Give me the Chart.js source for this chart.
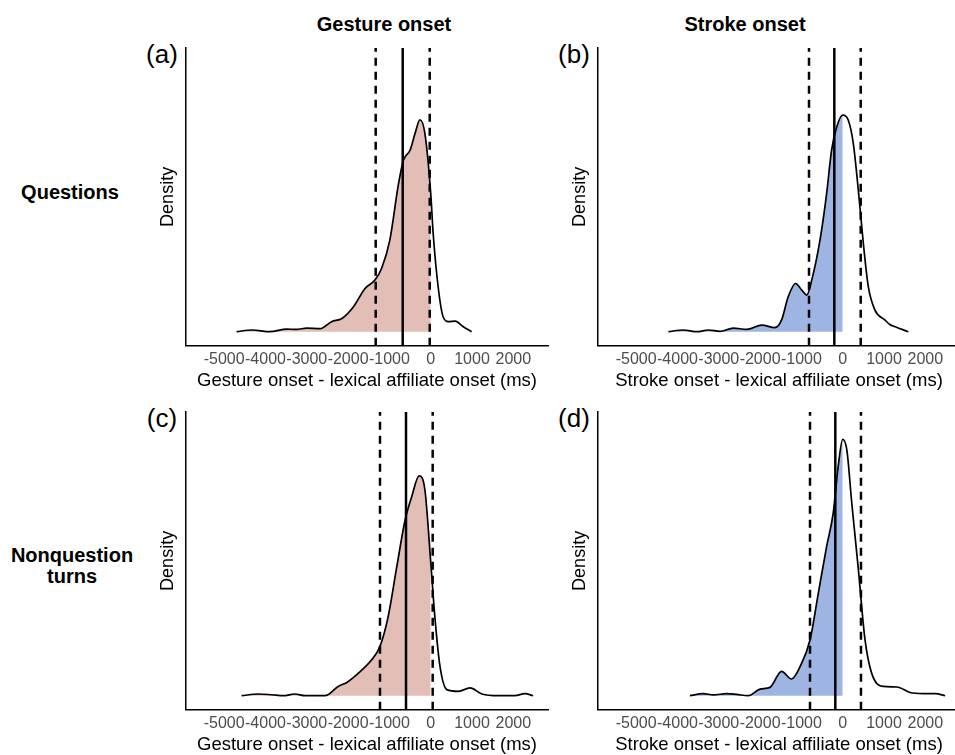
<!DOCTYPE html>
<html>
<head>
<meta charset="utf-8">
<script src="https://cdn.jsdelivr.net/npm/chart.js@4"></script>
<style>
  body { margin: 0; width: 955px; height: 755px; overflow: hidden; background: #fff; position: relative;
         font-family: "Liberation Sans", Arial, sans-serif; }
  canvas { position: absolute; }
  .lbl { position: absolute; transform: translate(-50%, -50%); white-space: nowrap; color: #000; }
  .hdr { font-weight: bold; font-size: 20px; text-align: center; line-height: 21px; }
  .tag { font-size: 26px; }
</style>
</head>
<body>
<div class="lbl hdr" style="left:384px;top:24px">Gesture onset</div>
<div class="lbl hdr" style="left:745px;top:24px">Stroke onset</div>
<div class="lbl hdr" style="left:70px;top:192px">Questions</div>
<div class="lbl hdr" style="left:72px;top:566px">Nonquestion<br>turns</div>
<div class="lbl tag" style="left:162px;top:54px">(a)</div>
<div class="lbl tag" style="left:574px;top:54px">(b)</div>
<div class="lbl tag" style="left:162px;top:418px">(c)</div>
<div class="lbl tag" style="left:574px;top:418px">(d)</div>

<canvas id="chart-a" width="420" height="360" style="left:140px;top:40px"></canvas>
<canvas id="chart-b" width="420" height="360" style="left:552px;top:40px"></canvas>
<canvas id="chart-c" width="420" height="360" style="left:140px;top:404px"></canvas>
<canvas id="chart-d" width="420" height="360" style="left:552px;top:404px"></canvas>

<script>
const FONT = "'Liberation Sans', Arial, sans-serif";

const X_TICKS = [-5000, -4000, -3000, -2000, -1000, 0, 1000, 2000];

// density (x 10^-3), x in ms
const GESTURE_Q_X = [-4700, -4330, -3890, -3490, -3250, -3000, -2680, -2400, -2150, -1870, -1590, -1350, -1190, -990,
  -780, -660, -500, -380, -260, -140, 0, 60, 180, 300, 430, 590, 790, 990];
const GESTURE_Q_Y = [0, 0.009, 0, 0.014, 0.012, 0.019, 0.016, 0.053, 0.070, 0.132, 0.228, 0.272, 0.333, 0.483,
  0.779, 0.904, 0.956, 1.044, 1.117, 1.044, 0.73, 0.516, 0.237, 0.079, 0.053, 0.056, 0.026, 0];

const STROKE_Q_X = [-4220, -3860, -3530, -3250, -2970, -2650, -2320, -1960, -1640, -1480, -1320, -1140, -990, -870,
  -750, -550, -390, -270, -145, 0, 136, 257, 378, 500, 620, 780, 1020, 1140, 1270, 1590];
const STROKE_Q_Y = [0, 0.009, 0, 0.009, 0.002, 0.019, 0.012, 0.035, 0.021, 0.062, 0.184, 0.254, 0.219, 0.193,
  0.272, 0.483, 0.726, 0.956, 1.079, 1.141, 1.114, 0.991, 0.746, 0.465, 0.237, 0.114, 0.062, 0.038, 0.026, 0];

const GESTURE_N_X = [-4580, -4170, -3850, -3570, -3290, -3040, -2560, -2240, -2030, -1750, -1430, -1230, -1030, -820,
  -620, -460, -280, -140, 0, 100, 225, 390, 670, 950, 1240, 1640, 2040, 2280, 2480];
const GESTURE_N_Y = [0, 0.009, 0.005, 0, 0.009, 0, 0, 0.049, 0.070, 0.119, 0.189, 0.259, 0.417, 0.681,
  0.926, 1.049, 1.158, 1.084, 0.705, 0.417, 0.154, 0.032, 0.023, 0.041, 0.009, 0, 0, 0.011, 0];

const STROKE_N_X = [-3700, -3380, -3130, -2810, -2570, -2290, -2000, -1760, -1480, -1240, -1030, -790, -590, -390,
  -230, -110, 0, 100, 220, 380, 540, 700, 980, 1310, 1630, 1950, 2240, 2480];
const STROKE_N_Y = [0, 0.011, 0.004, 0.011, 0.007, 0, 0.035, 0.044, 0.128, 0.088, 0.154, 0.295, 0.541, 0.786,
  0.962, 1.207, 1.351, 1.295, 1.014, 0.663, 0.295, 0.119, 0.049, 0.046, 0.017, 0.011, 0.011, 0];

// lower dashed, mean (solid), upper dashed
const GESTURE_Q_LINES = [-1332, -678, -24];
const STROKE_Q_LINES = [-816, -203, 436];
const GESTURE_N_LINES = [-1228, -598, 48];
const STROKE_N_LINES = [-792, -179, 442];

const Y_MIN = -0.074;
const Y_MAX = 1.495;

const PINK = "rgb(226, 190, 183)";
const BLUE = "rgb(158, 180, 226)";

function vline(x, dash) {
  return {
    data: [{ x: x, y: Y_MIN }, { x: x, y: Y_MAX }],
    borderColor: "#000",
    borderWidth: 2.5,
    borderDash: dash,
    pointRadius: 0,
    fill: false,
  };
}

function densityChart(id, xs, ys, lines, fillColor, xTitle) {
  const curve = xs.map((x, i) => ({ x: x, y: ys[i] }));
  const shaded = curve.filter((p) => p.x <= 0);

  return new Chart(document.getElementById(id), {
    type: "line",
    data: {
      datasets: [
        vline(lines[0], [8, 6]),
        vline(lines[1], []),
        vline(lines[2], [8, 6]),
        {
          data: curve,
          borderColor: "#000",
          borderWidth: 1.7,
          pointRadius: 0,
          fill: false,
          cubicInterpolationMode: "monotone",
        },
        {
          data: shaded,
          borderColor: "rgba(0,0,0,0)",
          borderWidth: 0,
          backgroundColor: fillColor,
          pointRadius: 0,
          fill: "origin",
          cubicInterpolationMode: "monotone",
        },
      ],
    },
    options: {
      responsive: false,
      animation: false,
      layout: { padding: { left: 13.4, top: 8, right: 12, bottom: 5.75 } },
      plugins: { legend: { display: false }, tooltip: { enabled: false } },
      scales: {
        x: {
          type: "linear",
          min: -5925,
          max: 2840,
          afterBuildTicks: (axis) => {
            axis.ticks = X_TICKS.map((v) => ({ value: v }));
          },
          grid: { display: false, drawTicks: false },
          border: { display: true, color: "#000", width: 1.5 },
          ticks: {
            autoSkip: false,
            maxRotation: 0,
            minRotation: 0,
            padding: 6.25,
            color: "#4D4D4D",
            font: { family: FONT, size: 16, lineHeight: 1.0 },
            callback: (v) => String(v),
          },
          title: {
            display: true,
            text: xTitle,
            color: "#000",
            font: { family: FONT, size: 18.5, lineHeight: 1.0 },
            padding: { top: -2.5, bottom: 4 },
          },
        },
        y: {
          min: Y_MIN,
          max: Y_MAX,
          grid: { display: false, drawTicks: false },
          border: { display: true, color: "#000", width: 1.5 },
          ticks: { display: false },
          title: {
            display: true,
            text: "Density",
            color: "#000",
            font: { family: FONT, size: 18 },
            padding: { top: 4, bottom: 7 },
          },
        },
      },
    },
  });
}

densityChart("chart-a", GESTURE_Q_X, GESTURE_Q_Y, GESTURE_Q_LINES, PINK, "Gesture onset - lexical affiliate onset (ms)");
densityChart("chart-b", STROKE_Q_X, STROKE_Q_Y, STROKE_Q_LINES, BLUE, "Stroke onset - lexical affiliate onset (ms)");
densityChart("chart-c", GESTURE_N_X, GESTURE_N_Y, GESTURE_N_LINES, PINK, "Gesture onset - lexical affiliate onset (ms)");
densityChart("chart-d", STROKE_N_X, STROKE_N_Y, STROKE_N_LINES, BLUE, "Stroke onset - lexical affiliate onset (ms)");
</script>
</body>
</html>
